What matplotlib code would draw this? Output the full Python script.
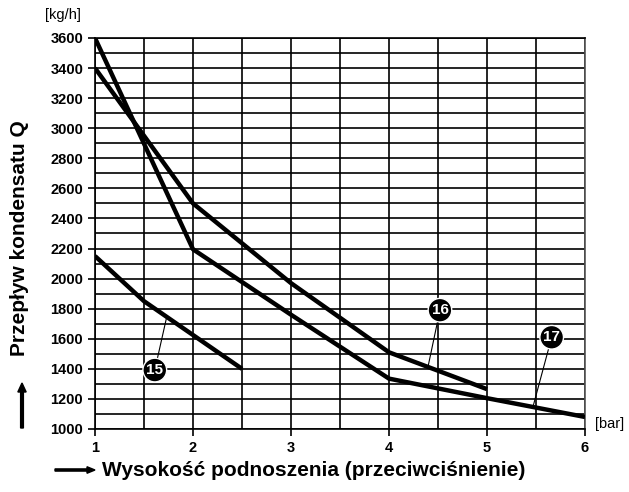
import matplotlib.pyplot as plt
import numpy as np

plt.rcParams['font.family'] = ['Liberation Sans', 'DejaVu Sans']

# curve data
x15 = [1, 1.5, 2.5]
q15 = [2150, 1850, 1400]
x16 = [1, 2, 3, 4, 5]
q16 = [3400, 2500, 1970, 1510, 1265]
x17 = [1, 2, 3, 4, 5, 6]
q17 = [3600, 2195, 1760, 1335, 1205, 1080]

xticks = [1, 2, 3, 4, 5, 6]
yticks = list(range(1000, 3601, 200))

fig = plt.figure(figsize=(6.29, 4.92), dpi=100)
ax = fig.add_axes([95/629, 1-429/492, 490/629, 391/492])

ax.set_xlim(1, 6)
ax.set_ylim(1000, 3600)
ax.set_xticks(np.arange(1, 6.01, 0.5), minor=True)
ax.set_yticks(np.arange(1000, 3601, 100), minor=True)
ax.grid(which='both', color='black', linewidth=1.2)
ax.tick_params(which='minor', length=0)
ax.set_xticks(xticks)
ax.set_yticks(yticks)
ax.tick_params(which='major', length=5, width=1.2, direction='out', labelsize=10.5)
for lab in ax.get_xticklabels() + ax.get_yticklabels():
    lab.set_fontweight('bold')
for s in ax.spines.values():
    s.set_linewidth(1.2)
ax.spines['right'].set_color('#555555')

for xs, qs in [(x15, q15), (x16, q16), (x17, q17)]:
    ax.plot(xs, qs, color='black', linewidth=3.2, solid_capstyle='butt', zorder=3)

# circled labels with leader lines
labels = [('15', (1.61, 1392), (1.73, 1740)),
          ('16', (4.52, 1790), (4.4, 1420)),
          ('17', (5.66, 1610), (5.47, 1150))]
for txt, pos, tip in labels:
    ax.plot([pos[0], tip[0]], [pos[1], tip[1]], color='black', linewidth=0.8, zorder=3)
    ax.text(pos[0], pos[1], txt, color='white', fontsize=11, fontweight='bold',
            ha='center', va='center', zorder=5,
            bbox=dict(boxstyle='circle,pad=0.22', fc='black', ec='white', lw=1))

fig.text(45/629, 1-15/492, '[kg/h]', fontsize=10.5, ha='left', va='center')
fig.text(595/629, 1-424/492, '[bar]', fontsize=10.5, ha='left', va='center')
fig.text(20/629, 1-238/492, 'Przepływ kondensatu Q', rotation=90, fontsize=15,
         fontweight='bold', ha='center', va='center')
fig.text(102/629, 1-470/492, 'Wysokość podnoszenia (przeciwciśnienie)', fontsize=15,
         fontweight='bold', ha='left', va='center')
fig.patches.append(plt.Arrow(55/629, 1-470/492, 40/629, 0, width=0.022,
                             transform=fig.transFigure, color='black'))
fig.patches.append(plt.Arrow(22/629, 1-428/492, 0, 45/492, width=0.022,
                             transform=fig.transFigure, color='black'))

fig.savefig('out.png', dpi=100)
